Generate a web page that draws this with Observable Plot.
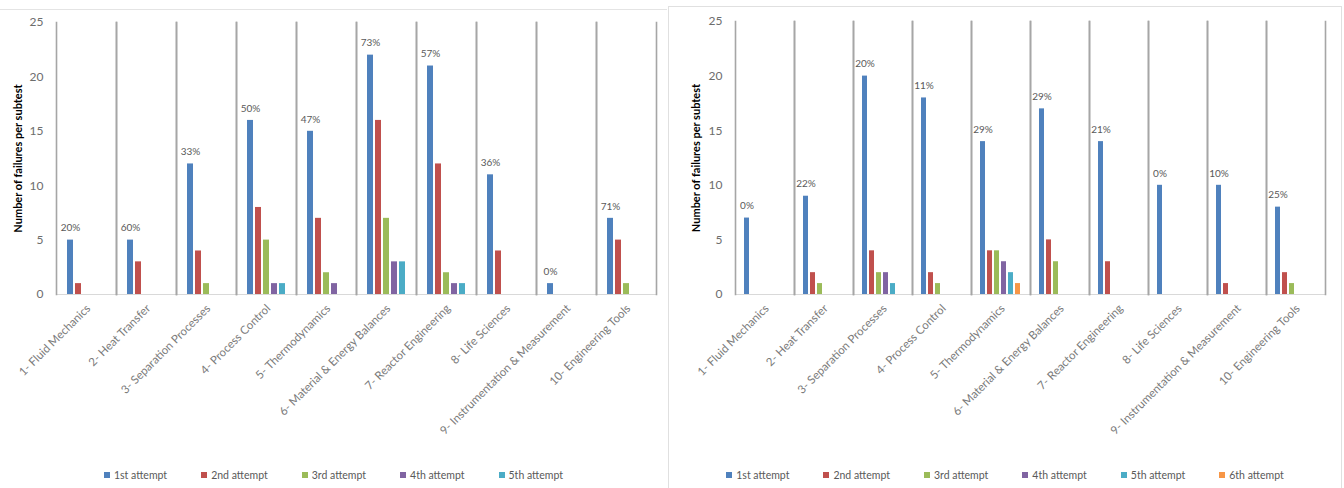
<!DOCTYPE html>
<html>
<head>
<meta charset="utf-8">
<script src="https://cdn.jsdelivr.net/npm/d3@7"></script>
<script src="https://cdn.jsdelivr.net/npm/@observablehq/plot@0.6"></script>
<style>
  html, body { margin: 0; padding: 0; background: #fff; }
  body { font-family: Lato, "Open Sans", sans-serif; }
  #wrap { position: relative; width: 1344px; height: 488px; overflow: hidden; background: #fff; }
  .panel { position: absolute; background: #fff; box-sizing: border-box; }
  #p1 { left: 0; top: 9px; width: 667px; height: 479px; border-top: 1px solid #e4e4e4; }
  #p2 { left: 668px; top: 6px; width: 674px; height: 482px; border: 1px solid #e0e0e0; border-bottom: none; }
  .panel svg { position: absolute; left: 0; top: 0; }
  .legend { position: absolute; left: 0; right: 0; display: flex; justify-content: center; font-size: 10.5px; color: #595959; }
  .legend .item { display: inline-flex; align-items: center; margin: 0 17px; white-space: nowrap; }
  .legend .sw { width: 6px; height: 6px; margin-right: 4px; display: inline-block; }
</style>
</head>
<body>
<div id="wrap">
  <div class="panel" id="p1"></div>
  <div class="panel" id="p2"></div>
</div>
<script>
// ---------- data ----------
const subtests = [
  "1- Fluid Mechanics", "2- Heat Transfer", "3- Separation Processes", "4- Process Control",
  "5- Thermodynamics", "6- Material & Energy Balances", "7- Reactor Engineering",
  "8- Life Sciences", "9- Instrumentation & Measurement", "10- Engineering Tools"
];
const attempts = ["1st attempt", "2nd attempt", "3rd attempt", "4th attempt", "5th attempt", "6th attempt"];
const attemptColors = ["#4F81BD", "#C0504D", "#9BBB59", "#8064A2", "#4BACC6", "#F79646"];
const yTicks = [0, 5, 10, 15, 20, 25];
const yLabel = "Number of failures per subtest";

// left chart (5 attempts)
const left1st = [5, 5, 12, 16, 15, 22, 21, 11, 1, 7];
const left2nd = [1, 3, 4, 8, 7, 16, 12, 4, 0, 5];
const left3rd = [0, 0, 1, 5, 2, 7, 2, 0, 0, 1];
const left4th = [0, 0, 0, 1, 1, 3, 1, 0, 0, 0];
const left5th = [0, 0, 0, 1, 0, 3, 1, 0, 0, 0];
const leftPct = ["20%", "60%", "33%", "50%", "47%", "73%", "57%", "36%", "0%", "71%"];

// right chart (6 attempts)
const right1st = [7, 9, 20, 18, 14, 17, 14, 10, 10, 8];
const right2nd = [0, 2, 4, 2, 4, 5, 3, 0, 1, 2];
const right3rd = [0, 1, 2, 1, 4, 3, 0, 0, 0, 1];
const right4th = [0, 0, 2, 0, 3, 0, 0, 0, 0, 0];
const right5th = [0, 0, 1, 0, 2, 0, 0, 0, 0, 0];
const right6th = [0, 0, 0, 0, 1, 0, 0, 0, 0, 0];
const rightPct = ["0%", "22%", "20%", "11%", "29%", "29%", "21%", "0%", "10%", "25%"];

// ---------- build ----------
function table(series) {
  const rows = [];
  subtests.forEach((s, i) => {
    series.forEach((arr, j) => {
      if (arr[i] > 0) rows.push({subtest: s, attempt: attempts[j], value: arr[i]});
    });
  });
  return rows;
}

function chart(el, series, pct, opt) {
  const n = series.length;
  const dom = attempts.slice(0, n);
  const data = table(series);
  const labels = subtests.map((s, i) => ({subtest: s, attempt: attempts[0], value: series[0][i], label: pct[i]}));
  const plot = Plot.plot({
    width: opt.width,
    height: opt.height,
    marginTop: opt.mt,
    marginBottom: opt.mb,
    marginLeft: opt.ml,
    marginRight: opt.mr,
    style: {fontFamily: "Lato, 'Open Sans', sans-serif", fontSize: "12px", color: "#595959", background: "transparent"},
    fx: {domain: subtests, padding: 0, label: null},
    x: {domain: dom, paddingInner: opt.pi, paddingOuter: opt.po, axis: null},
    y: {domain: [0, 25], label: null},
    color: {domain: attempts, range: attemptColors},
    marks: [
      Plot.ruleY([0], {stroke: "#d9d9d9", strokeWidth: 1.2}),
      Plot.barY(data, {fx: "subtest", x: "attempt", y: "value", fill: "attempt"}),
      Plot.frame({anchor: "left", stroke: "#a6a6a6", strokeWidth: 1.6}),
      Plot.frame({anchor: "right", stroke: "#a6a6a6", strokeWidth: 1.6}),
      Plot.text(labels, {fx: "subtest", x: "attempt", y: "value", text: "label", dy: -12, fontSize: 10, fill: "#595959", lineAnchor: "middle"}),
      Plot.axisY({ticks: yTicks, tickSize: 0, tickPadding: 13, fontSize: 12, fill: "#6d6d6d",
        label: yLabel, labelAnchor: "center", labelArrow: "none", labelOffset: opt.lo}),
      Plot.axisFx({anchor: "bottom", tickRotate: -45, tickSize: 0, tickPadding: 12, fontSize: 11.5, fill: "#7a7a7a", label: null, dx: 2})
    ]
  });
  el.appendChild(plot);
  const lab = plot.querySelectorAll("[aria-label='y-axis label'] text");
  lab.forEach(t => { t.setAttribute("font-weight", "bold"); t.setAttribute("font-size", "11"); t.setAttribute("fill", "#000"); });

  const lg = document.createElement("div");
  lg.className = "legend";
  lg.style.top = opt.legendTop + "px";
  dom.forEach((a, j) => {
    const it = document.createElement("span");
    it.className = "item";
    const sw = document.createElement("span");
    sw.className = "sw";
    sw.style.background = attemptColors[j];
    it.appendChild(sw);
    it.appendChild(document.createTextNode(a));
    lg.appendChild(it);
  });
  el.appendChild(lg);
}

chart(document.getElementById("p1"),
  [left1st, left2nd, left3rd, left4th, left5th], leftPct,
  {width: 667, height: 455, mt: 12, mb: 171, ml: 55, mr: 10, pi: 0.28, po: 0.98, lo: 42, legendTop: 459});

chart(document.getElementById("p2"),
  [right1st, right2nd, right3rd, right4th, right5th, right6th], rightPct,
  {width: 672, height: 455, mt: 14, mb: 168, ml: 61, mr: 12, pi: 0.23, po: 0.95, lo: 43, legendTop: 462});
</script>
</body>
</html>
